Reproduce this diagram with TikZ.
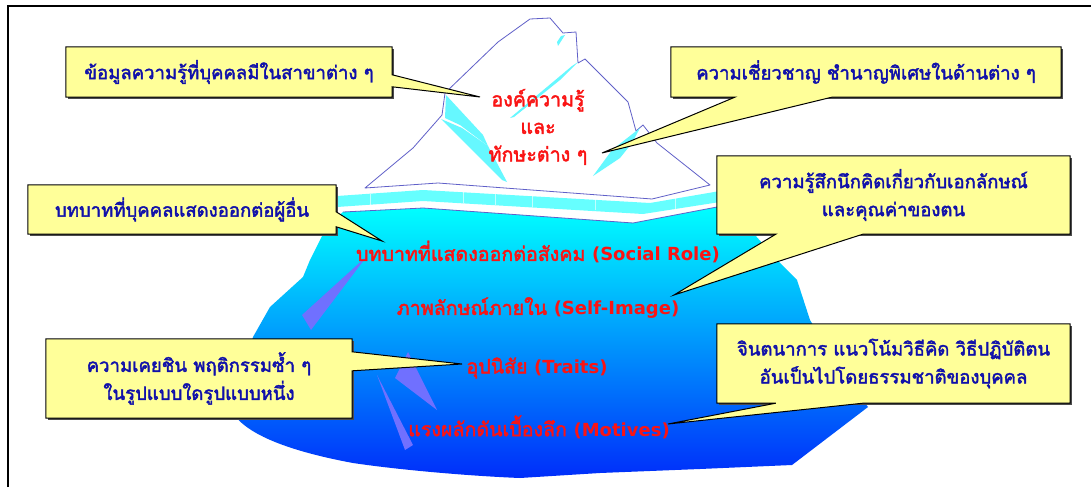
\documentclass[tikz,border=0pt]{standalone}
\usepackage{fontspec}
\newfontfamily\thaifont[Script=Thai, Scale=1.09, AutoFakeBold=2.2]{Loma}
\newfontfamily\latinfont{DejaVu Sans}
\usetikzlibrary{calc,shadows}

\definecolor{calloutfill}{RGB}{255,255,153}
\definecolor{calloutink}{RGB}{16,16,170}
\definecolor{labelred}{RGB}{250,20,20}
\definecolor{iceedge}{RGB}{96,96,200}
\definecolor{icefacet}{RGB}{102,248,255}
\definecolor{bandcyan}{RGB}{102,255,255}
\definecolor{deepfacet}{RGB}{112,112,255}
\definecolor{seatop}{RGB}{0,255,255}
\definecolor{seamid}{RGB}{10,170,245}
\definecolor{seabot}{RGB}{0,45,250}

\tikzset{
  calloutbox/.style={fill=calloutfill, inner sep=0pt, align=center,
    drop shadow={shadow xshift=1.6pt, shadow yshift=-1.6pt, fill=black!70, opacity=1},
    font=\thaifont\bfseries\fontsize{17}{28}\selectfont, text=calloutink},
  calloutedge/.style={draw=black, line width=1pt, line join=miter},
  layerlabel/.style={font=\thaifont\bfseries\fontsize{18}{27.5}\selectfont,
    text=labelred, align=center, inner sep=0pt},
  iceline/.style={draw=iceedge, line width=0.8pt, line join=round},
}

\begin{document}
\begin{tikzpicture}[x=1pt,y=-1pt]
\useasboundingbox (0,0) rectangle (1091,487);
\fill[white] (0,0) rectangle (1091,487);

% frame
\draw[line width=2pt] (8,487) -- (8,6) -- (1091,6);

% submerged part of the iceberg
\shade[top color=seatop, middle color=seamid, bottom color=seabot]
  (343,212) -- (423,208) -- (633,223) -- (717,207) -- (738,216) -- (755,235)
  -- (777,260) -- (797,280) -- (810,320) -- (840,370) -- (868,407) -- (792,465)
  -- (700,469) -- (600,473) -- (520,478)
  .. controls (470,476) and (400,470) .. (353,463)
  .. controls (310,455) and (250,440) .. (233,413)
  -- (240,380) -- (253,337) -- (270,307) -- (303,277) -- (310,260)
  -- (322,236) -- (330,223) -- cycle;
\draw[iceline] (343,212) -- (423,208) -- (633,223) -- (717,207);

% facets below the surface
\fill[deepfacet] (367,256) -- (302,315) -- (311,330) -- cycle;
\fill[deepfacet] (408,352) -- (395,378) -- (437,410) -- cycle;
\fill[deepfacet] (377,375) -- (413,445) -- (405,450) -- cycle;

% surface band
\fill[bandcyan] (337,196) -- (423,190) -- (650,203) -- (720,191)
  -- (720,202) -- (643,214) -- (423,201) -- (337,207) -- cycle;
\foreach \sx/\ta/\tb in {370/194/205, 463/192/203, 495/194/205, 532/196/207, 595/199/210, 675/198/210}
  \draw[white, opacity=0.6, line width=0.6pt] (\sx,\ta) -- (\sx,\tb);

% visible part of the iceberg
\filldraw[fill=white, iceline]
  (365,188) -- (413,148) -- (442,115) -- (445,93) -- (498,42) -- (530,19)
  -- (550,18) -- (563,33) -- (576,32) -- (578,63) -- (585,59) -- (628,102)
  -- (636,131) -- (643,125) -- (657,143) -- (710,185) -- (652,199)
  -- (438,183) -- cycle;
\fill[icefacet] (446,95) -- (483,135) -- (488,146) -- (460,125) -- (445,118) -- cycle;
\fill[icefacet] (441,119) -- (462,128) -- (488,146) -- (507,182) -- (502,180) -- (472,150) -- cycle;
\fill[icefacet] (578,62) -- (572,66) -- (510,118) -- (514,117) -- (560,80) -- cycle;
\fill[icefacet] (640,128) -- (612,150) -- (593,176) -- (620,158) -- (632,143) -- cycle;
\fill[icefacet] (561,36) -- (565,35) -- (558,46) -- (557,42) -- cycle;

% layer labels
\node[layerlabel] (knowledge) at (538,127) {องค์ความรู้\\และ\\ทักษะต่าง ๆ};
\node[layerlabel] (role)   at (538,252) {บทบาทที่แสดงออกต่อสังคม {\latinfont(Social Role)}};
\node[layerlabel] (image)  at (538,308) {ภาพลักษณ์ภายใน {\latinfont(Self-Image)}};
\node[layerlabel] (traits) at (537,368) {อุปนิสัย {\latinfont(Traits)}};
\node[layerlabel] (motive) at (539,427) {แรงผลักดันเบื้องลึก {\latinfont(Motives)}};

% pointer tips
\coordinate (t1) at (480,97);
\coordinate (t2) at (602,153);
\coordinate (t3) at (382,241);
\coordinate (t4) at (674,295);
\coordinate (t5) at (462,364);
\coordinate (t6) at (668,424);

% callout 1
\node[calloutbox, minimum width=326pt, minimum height=50pt] (b1) at (229,72)
  {ข้อมูลความรู้ที่บุคคลมีในสาขาต่าง ๆ};
\coordinate (b1a) at ($(b1.north east)+(0,28)$);
\coordinate (b1b) at ($(b1.north east)+(0,40)$);
\fill[calloutfill] (b1a) -- (t1) -- (b1b) -- cycle;
\draw[calloutedge] (b1.north west) -- (b1.north east) -- (b1a) -- (t1) -- (b1b)
  -- (b1.south east) -- (b1.south west) -- cycle;

% callout 2
\node[calloutbox, minimum width=390pt, minimum height=50pt] (b2) at (866,72)
  {ความเชี่ยวชาญ ชำนาญพิเศษในด้านต่าง ๆ};
\coordinate (b2a) at ($(b2.south west)+(64,0)$);
\coordinate (b2b) at ($(b2.south west)+(161,0)$);
\fill[calloutfill] (b2a) -- (t2) -- (b2b) -- cycle;
\draw[calloutedge] (b2.south west) -- (b2.north west) -- (b2.north east)
  -- (b2.south east) -- (b2b) -- (t2) -- (b2a) -- cycle;

% callout 3
\node[calloutbox, minimum width=308pt, minimum height=49pt] (b3) at (182,209.5)
  {บทบาทที่บุคคลแสดงออกต่อผู้อื่น};
\coordinate (b3a) at ($(b3.north east)+(0,27)$);
\coordinate (b3b) at ($(b3.north east)+(0,42)$);
\fill[calloutfill] (b3a) -- (t3) -- (b3b) -- cycle;
\draw[calloutedge] (b3.north west) -- (b3.north east) -- (b3a) -- (t3) -- (b3b)
  -- (b3.south east) -- (b3.south west) -- cycle;

% callout 4
\node[calloutbox, minimum width=353pt, minimum height=78pt] (b4) at (893.5,195)
  {ความรู้สึกนึกคิดเกี่ยวกับเอกลักษณ์\\และคุณค่าของตน};
\coordinate (b4a) at ($(b4.south west)+(59,0)$);
\coordinate (b4b) at ($(b4.south west)+(146,0)$);
\fill[calloutfill] (b4a) -- (t4) -- (b4b) -- cycle;
\draw[calloutedge] (b4.south west) -- (b4.north west) -- (b4.north east)
  -- (b4.south east) -- (b4b) -- (t4) -- (b4a) -- cycle;

% callout 5
\node[calloutbox, minimum width=306pt, minimum height=79pt] (b5) at (199,378.5)
  {ความเคยชิน พฤติกรรมซ้ำ ๆ\\ในรูปแบบใดรูปแบบหนึ่ง};
\coordinate (b5a) at ($(b5.north east)+(0,13)$);
\coordinate (b5b) at ($(b5.north east)+(0,32)$);
\fill[calloutfill] (b5a) -- (t5) -- (b5b) -- cycle;
\draw[calloutedge] (b5.north west) -- (b5.north east) -- (b5a) -- (t5) -- (b5b)
  -- (b5.south east) -- (b5.south west) -- cycle;

% callout 6
\node[calloutbox, minimum width=353pt, minimum height=79pt] (b6) at (893.5,363.5)
  {จินตนาการ แนวโน้มวิธีคิด วิธีปฏิบัติตน\\อันเป็นไปโดยธรรมชาติของบุคคล};
\coordinate (b6a) at ($(b6.south west)+(59,0)$);
\coordinate (b6b) at ($(b6.south west)+(146,0)$);
\fill[calloutfill] (b6a) -- (t6) -- (b6b) -- cycle;
\draw[calloutedge] (b6.south west) -- (b6.north west) -- (b6.north east)
  -- (b6.south east) -- (b6b) -- (t6) -- (b6a) -- cycle;
\end{tikzpicture}
\end{document}
